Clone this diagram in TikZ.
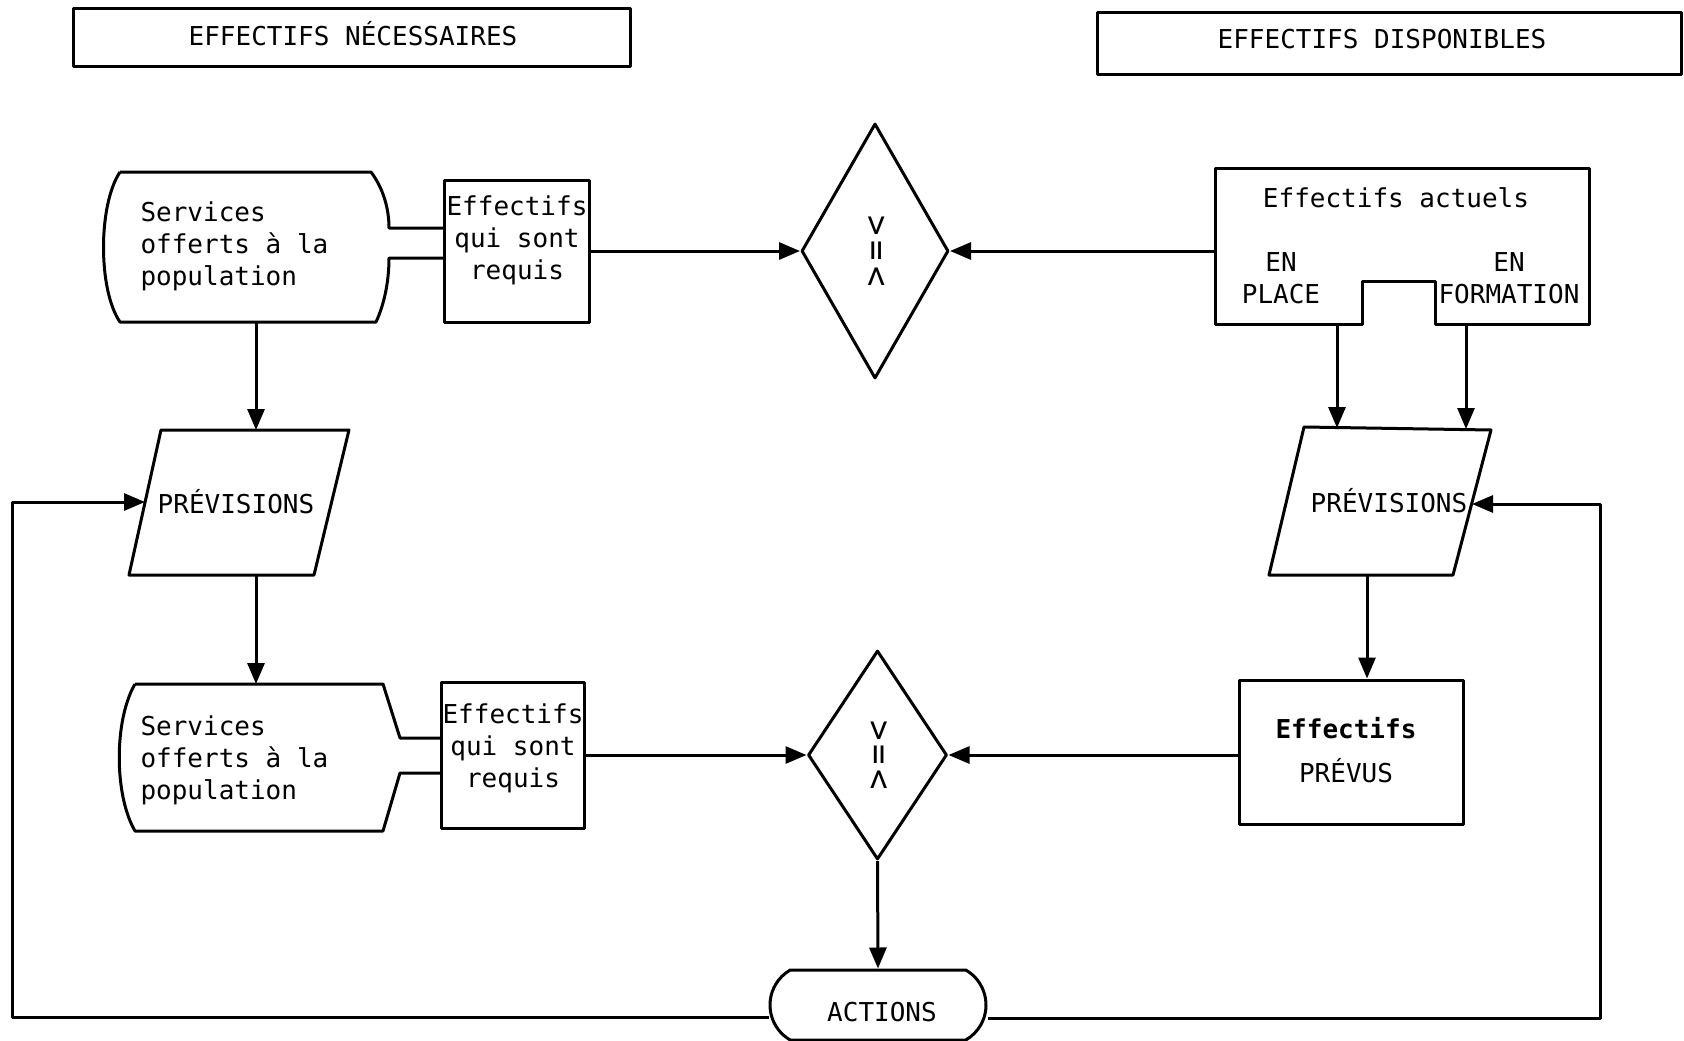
\documentclass[tikz,border=0pt]{standalone}
\usepackage{fontspec}
\setmainfont{DejaVu Sans Mono}
\usetikzlibrary{arrows.meta,shapes.geometric,shapes.misc}
\begin{document}
\begin{tikzpicture}[x=1pt,y=-1pt,
  line width=3pt, line join=round,
  txt/.style={font=\fontsize{26}{32}\selectfont, inner sep=0pt},
  box/.style={draw, rectangle, inner sep=0pt},
  arr/.style={-{Triangle[length=21pt,width=17pt]}},
  cmp/.style={draw, diamond, inner sep=0pt},
  cmptxt/.style={font=\fontsize{34}{40}\selectfont, inner sep=0pt, rotate=-90},
]
\fill[white] (0,0) rectangle (1684,1041);
\useasboundingbox (0,0) rectangle (1684,1041);

% headers
\node[box, minimum width=557pt, minimum height=58pt] (h1) at (351.5,38) {};
\node[txt] (h1t) at (353,34) {EFFECTIFS NÉCESSAIRES};
\node[box, minimum width=584pt, minimum height=62pt] (h2) at (1389,44) {};
\node[txt] (h2t) at (1382,39) {EFFECTIFS DISPONIBLES};

% top-left services shape
\draw (120,172) -- (371,172) .. controls (383,188) and (389,208) .. (389,228) -- (444,228);
\draw (444,258) -- (389,258) .. controls (389,282) and (384,305) .. (376,322) -- (120,322)
      .. controls (98,290) and (98,205) .. (120,172);
\node[txt, anchor=west, align=left] (s1t) at (139,246) {Services\\offerts à la\\population};
\coordinate (s1s) at (256,322);

% top effectifs requis box
\node[box, minimum width=145pt, minimum height=142pt] (e1) at (516.5,251) {};
\node[txt, align=center] (e1t) at (517,240) {Effectifs\\qui sont\\requis};

% diamond 1
\node[cmp, minimum width=147pt, minimum height=255pt] (d1) at (875,251) {};
\node[cmptxt] (d1t) at (d1) {>\hspace{5pt}=\hspace{5pt}<};

% effectifs actuels
\draw (1215,168) -- (1589,168) -- (1589,324) -- (1435,324) -- (1435,281) -- (1362,281)
      -- (1362,324) -- (1215,324) -- cycle;
\node[txt] (eat) at (1396,198) {Effectifs actuels};
\node[txt, align=center] (ept) at (1281,278) {EN\\PLACE};
\node[txt, align=center] (eft) at (1509,278) {EN\\FORMATION};
\coordinate (eaw) at (1215,251);
\coordinate (eap) at (1337,324);
\coordinate (eaf) at (1466,324);

% left previsions
\draw (161,430) -- (349,430) -- (314,575) -- (129,575) -- cycle;
\node[txt] (p1t) at (236,502) {PRÉVISIONS};
\coordinate (p1n) at (256,430);
\coordinate (p1s) at (256,575);
\coordinate (p1w) at (145,502);

% right previsions
\draw (1304,427) -- (1491,430) -- (1453,575) -- (1269,575) -- cycle;
\node[txt] (p2t) at (1389,501) {PRÉVISIONS};
\coordinate (p2a) at (1337,428);
\coordinate (p2b) at (1466,429);
\coordinate (p2s) at (1367,575);
\coordinate (p2e) at (1472,504);

% bottom-left services shape
\draw (135,684) -- (383,684) -- (400,738) -- (441,738);
\draw (441,773) -- (400,773) -- (383,831) -- (135,831)
      .. controls (114,795) and (114,720) .. (135,684);
\node[txt, anchor=west, align=left] (s2t) at (139,760) {Services\\offerts à la\\population};
\coordinate (s2n) at (256,684);

% bottom effectifs requis box
\node[box, minimum width=143pt, minimum height=146pt] (e2) at (512.5,755) {};
\node[txt, align=center] (e2t) at (513,748) {Effectifs\\qui sont\\requis};

% diamond 2
\node[cmp, minimum width=139pt, minimum height=209pt] (d2) at (877.5,755) {};
\node[cmptxt] (d2t) at (d2) {>\hspace{4pt}=\hspace{4pt}<};

% effectifs prevus
\node[box, minimum width=224pt, minimum height=144pt] (ep) at (1351,752) {};
\node[txt, align=center] (ept2) at (1346,750) {\textbf{Effectifs}\\[12pt]PRÉVUS};

% actions
\node[draw, rounded rectangle, rounded rectangle arc length=120, minimum width=216pt,
      minimum height=70pt, inner sep=0pt] (act) at (878,1005) {};
\node[txt] (actt) at (882,1012) {ACTIONS};
\coordinate (lb) at (12,1017);
\coordinate (rb) at (1600,1018);

% connectors
\draw[arr] (e1.east) -- (d1.west);
\draw[arr] (eaw) -- (d1.east);
\draw[arr] (s1s) -- (p1n);
\draw[arr] (p1s) -- (s2n);
\draw[arr] (eap) -- (p2a);
\draw[arr] (eaf) -- (p2b);
\draw[arr] (p2s) -- (p2s |- ep.north);
\draw[arr] (e2.east) -- (d2.west);
\draw[arr] (ep.west |- d2) -- (d2.east);
\draw[arr] (d2.south) -- (act.north);
\draw[arr] (act.west |- lb) -- (lb) |- (p1w);
\draw[arr] (act.east |- rb) -- (rb) |- (p2e);
\end{tikzpicture}
\end{document}
